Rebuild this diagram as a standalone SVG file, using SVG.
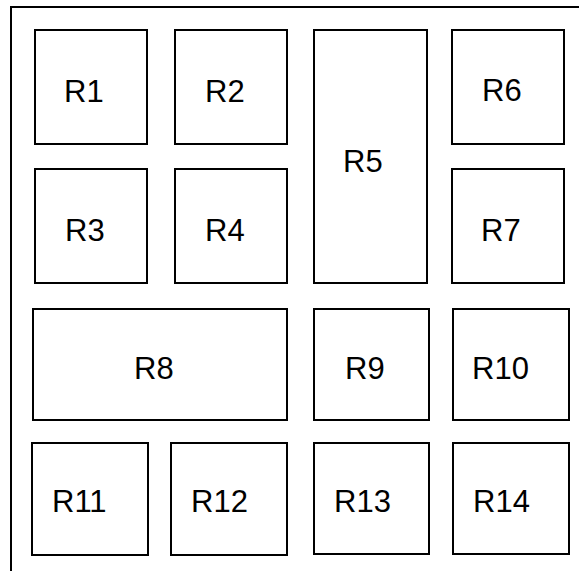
<svg xmlns="http://www.w3.org/2000/svg" width="579" height="571" viewBox="0 0 579 571">
<style>
.box{fill:#fff;stroke:#000;stroke-width:2}
.frame{fill:#fff;stroke:#000;stroke-width:2}
text{font-family:"Liberation Sans",Arial,sans-serif;font-size:31px;fill:#000}
</style>
<rect width="579" height="571" fill="#fff"/>
<rect class="frame" x="11" y="7" width="590" height="590"/>
<g id="R1"><rect class="box" x="35" y="30" width="112" height="114"/><text x="64" y="101.5">R1</text></g>
<g id="R2"><rect class="box" x="175" y="30" width="112" height="114"/><text x="205" y="101.5">R2</text></g>
<g id="R3"><rect class="box" x="35" y="169" width="112" height="114"/><text x="65" y="241">R3</text></g>
<g id="R4"><rect class="box" x="175" y="169" width="112" height="114"/><text x="205" y="241">R4</text></g>
<g id="R5"><rect class="box" x="314" y="30" width="113" height="253"/><text x="343" y="171.5">R5</text></g>
<g id="R6"><rect class="box" x="452" y="30" width="112" height="114"/><text x="482" y="101">R6</text></g>
<g id="R7"><rect class="box" x="452" y="169" width="112" height="114"/><text x="481" y="241">R7</text></g>
<g id="R8"><rect class="box" x="33" y="309" width="254" height="111"/><text x="134" y="379">R8</text></g>
<g id="R9"><rect class="box" x="314" y="309" width="115" height="111"/><text x="345" y="379">R9</text></g>
<g id="R10"><rect class="box" x="453" y="309" width="116" height="111"/><text x="472" y="379">R10</text></g>
<g id="R11"><rect class="box" x="32" y="443" width="116" height="112"/><text x="52" y="512">R11</text></g>
<g id="R12"><rect class="box" x="171" y="443" width="116" height="112"/><text x="191" y="512">R12</text></g>
<g id="R13"><rect class="box" x="314" y="443" width="115" height="111"/><text x="334" y="512">R13</text></g>
<g id="R14"><rect class="box" x="453" y="443" width="116" height="111"/><text x="473" y="512">R14</text></g>
<g id="connectors"></g>
</svg>
